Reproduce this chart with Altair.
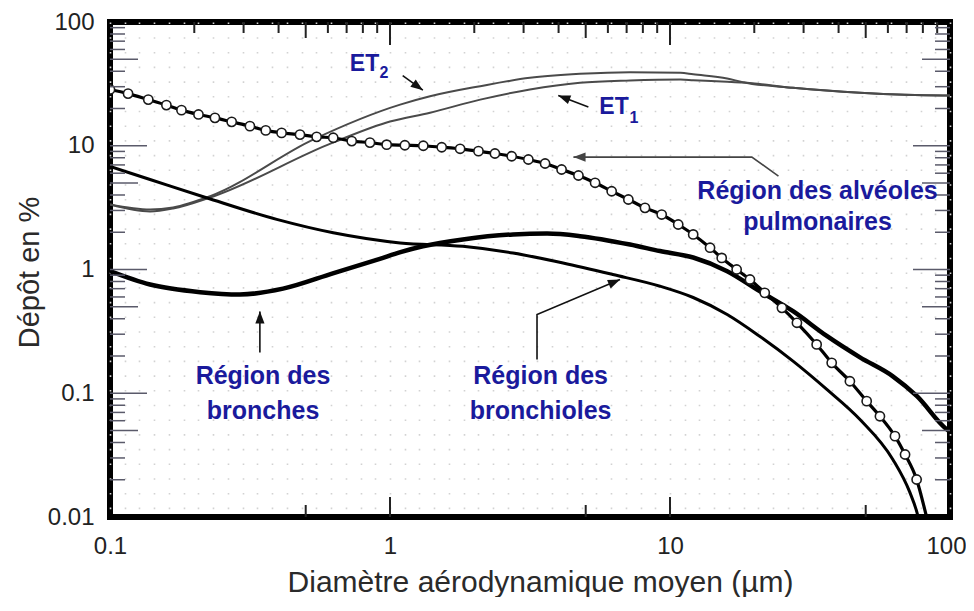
import math
import altair as alt
import pandas as pd

# ---------------- data ----------------
# ET2 (upper thin curve) and ET1 (lower thin curve)
et2_x = [0.1, 0.139, 0.168, 0.228, 0.531, 1.087, 1.39, 2.10, 3.16, 4.77, 7.20, 10.9, 12.1, 16.0, 18.2, 27.5, 47.7, 94.4, 100]
et2_y = [3.35, 3.05, 3.17, 3.91, 11.2, 21.5, 25.1, 30.3, 35.4, 38.1, 39.3, 38.9, 37.8, 35.0, 32.6, 29.4, 26.8, 25.5, 25.5]
et1_x = [0.1, 0.139, 0.168, 0.228, 0.625, 1.0, 1.39, 2.10, 3.16, 4.77, 7.20, 10.9, 12.1, 16.0, 18.2, 27.5, 47.7, 94.4, 100]
et1_y = [3.35, 2.94, 3.11, 3.82, 10.6, 15.7, 18.5, 23.6, 28.5, 32.3, 33.7, 34.3, 33.9, 32.9, 32.4, 29.4, 26.8, 25.5, 25.5]

# Région des bronches (thick curve)
bro_x = [0.1, 0.139, 0.210, 0.291, 0.415, 0.625, 0.92, 1.09, 1.31, 1.82, 2.75, 3.64, 4.77, 7.2, 9.21, 12.1, 16.0, 20.9, 27.5, 36.4, 47.7, 62.5, 76.2, 97.5, 100]
bro_y = [0.97, 0.756, 0.656, 0.628, 0.70, 0.93, 1.22, 1.38, 1.54, 1.75, 1.92, 1.95, 1.86, 1.59, 1.41, 1.25, 0.969, 0.668, 0.46, 0.289, 0.195, 0.137, 0.0947, 0.051, 0.049]

# Région des bronchioles (medium curve)
bch_x = [0.1, 0.139, 0.221, 0.394, 0.627, 1.087, 1.82, 2.75, 4.15, 6.25, 9.21, 12.1, 16.0, 20.9, 27.5, 36.4, 47.7, 62.5, 71.9, 76.2, 78.0]
bch_y = [6.8, 5.34, 3.80, 2.54, 1.98, 1.64, 1.54, 1.36, 1.13, 0.911, 0.733, 0.594, 0.433, 0.289, 0.182, 0.107, 0.0614, 0.0292, 0.0158, 0.0109, 0.0088]

# Région des alvéoles pulmonaires (curve with open circles)
alv_x = [0.1, 0.116, 0.137, 0.159, 0.180, 0.207, 0.237, 0.272, 0.316, 0.360, 0.410, 0.477, 0.547, 0.627,
         0.730, 0.848, 0.973, 1.13, 1.315, 1.53, 1.78, 2.07, 2.37, 2.72, 3.12, 3.58, 4.10, 4.71, 5.40,
         6.19, 7.10, 8.14, 9.34, 10.7, 12.1, 13.9, 15.3, 17.3, 19.3, 21.8, 25.1, 28.4, 33.4, 37.8, 43.9,
         50.4, 56.2, 63.6, 69.1, 76.0]
alv_y = [28.5, 26.4, 23.6, 21.3, 19.4, 17.9, 16.8, 15.6, 14.4, 13.3, 12.7, 12.3, 11.8, 11.6,
         10.9, 10.6, 10.2, 10.1, 10.0, 9.73, 9.45, 9.04, 8.66, 8.23, 7.74, 7.19, 6.43, 5.75, 5.02,
         4.29, 3.68, 3.15, 2.78, 2.31, 1.92, 1.50, 1.24, 1.0, 0.83, 0.648, 0.49, 0.371, 0.248, 0.176, 0.125,
         0.0863, 0.0652, 0.045, 0.032, 0.0201]
alv_tail_x = [82.5, 84.0]
alv_tail_y = [0.0100, 0.0085]

# axis labels
x_label_values = [0.1, 1, 10, 100]
y_label_values = [0.01, 0.1, 1, 10, 100]
mantissas_minor = [2, 3, 4, 6, 7, 8, 9]

# annotations (data coordinates)
ann_rows = [
    ("Région des alvéoles", 33.65, 4.27),
    ("pulmonaires", 33.65, 2.40),
    ("Région des", 0.352, 0.1366),
    ("bronches", 0.352, 0.0725),
    ("Région des", 3.45, 0.1366),
    ("bronchioles", 3.45, 0.0725),
]
et_main = [("ET", 0.811, 46.2), ("ET", 6.31, 20.4)]
et_sub = [("2", 0.952, 38.7), ("1", 7.43, 16.9)]

arrows = {
    "et2": [(1.11, 36.9), (1.31, 28.1)],
    "et1": [(5.11, 20.6), (3.99, 25.5)],
    "alv": [(24.4, 5.68), (19.6, 8.1), (4.52, 8.1)],
    "bro": [(0.343, 0.213), (0.343, 0.458)],
    "bch": [(3.35, 0.187), (3.35, 0.433), (6.63, 0.83)],
}
arrow_colors = {"et2": "#111111", "et1": "#111111", "alv": "#444444", "bro": "#111111", "bch": "#111111"}

# ---------------- layout ----------------
W, H = 840, 495
PX_X = W / 3.0   # pixels per decade
PX_Y = H / 4.0
BLUE = "#1a1a9c"
SANS = "Liberation Sans, Arial"

xs = alt.Scale(type="log", domain=[0.1, 100], nice=False)
ys = alt.Scale(type="log", domain=[0.01, 100], nice=False)

grid_vals = [float(f"{10 ** (k / 19.0 - 1):.10g}") for k in range(0, 58)]

x_axis = alt.Axis(
    values=grid_vals, format="~g",
    labelExpr="abs(log(datum.value)/LN10 - round(log(datum.value)/LN10)) < 0.001 ? datum.label : ''",
    grid=True, gridColor="#d2d2d2", gridDash=[1.6, 13.1], gridWidth=1.6,
    ticks=False, tickSize=0, domain=False, labelOverlap=False, labelFlush=False, labelBound=False,
    labelFont=SANS, labelFontSize=24, labelColor="#222222", labelPadding=29, labelBaseline="middle",
    labelOffset={"condition": {"test": "datum.value > 50", "value": -4}, "value": 0},
    title="Diamètre aérodynamique moyen (µm)", titleFont=SANS, titleFontSize=30,
    titleFontWeight="normal", titleColor="#2a2a2a", titleX=430, titleY=74,
    titleBaseline="alphabetic", titleAlign="center",
)
y_axis = alt.Axis(
    values=y_label_values, format="~g", grid=False, ticks=False, tickSize=0, domain=False,
    labelFlush=False, labelBound=False, labelOverlap=False,
    labelFont=SANS, labelFontSize=24, labelColor="#222222", labelPadding=16,
    title="Dépôt en %", titleFont=SANS, titleFontSize=29, titleFontWeight="normal",
    titleColor="#2a2a2a", titleX=-72, titleY=250, titleAngle=270,
    titleBaseline="alphabetic", titleAlign="center",
)


def X():
    return alt.X("x:Q", scale=xs, axis=x_axis)


def Y():
    return alt.Y("y:Q", scale=ys, axis=y_axis)


def df_xy(xv, yv):
    return pd.DataFrame({"x": xv, "y": yv})


def line(xv, yv, width, color):
    return alt.Chart(df_xy(xv, yv)).mark_line(
        strokeWidth=width, color=color, interpolate="monotone", clip=True
    ).encode(x=X(), y=Y())


layers = []


# inner ticks along the frame
def xticks(vals, y0, y1, color="#222222", width=2):
    return alt.Chart(pd.DataFrame({"x": vals})).mark_rule(color=color, strokeWidth=width).encode(
        x=X(), y=alt.value(y0), y2=alt.value(y1))


def yticks(vals, x0, x1, color="#5a5a6a", width=1.5):
    return alt.Chart(pd.DataFrame({"y": vals})).mark_rule(color=color, strokeWidth=width).encode(
        y=Y(), x=alt.value(x0), x2=alt.value(x1))


x_minor = [m * 10 ** e for e in (-1, 0, 1) for m in mantissas_minor]
x_mid = [0.5, 5, 50]
x_major = [1, 10]
y_minor = [m * 10 ** e for e in (-2, -1, 0, 1) for m in mantissas_minor]
y_mid = [0.05, 0.5, 5, 50]
y_major = [0.1, 1, 10]

# curves
layers.append(line(et2_x, et2_y, 2.0, "#4a4a4a"))
layers.append(line(et1_x, et1_y, 2.0, "#4a4a4a"))
layers.append(line(bch_x, bch_y, 3.0, "#000000"))
layers.append(line(bro_x, bro_y, 4.5, "#000000"))
layers.append(line(alv_x + alv_tail_x, alv_y + alv_tail_y, 3.2, "#000000"))
layers.append(
    alt.Chart(df_xy(alv_x, alv_y)).mark_point(
        shape="circle", size=85, filled=True, fill="white", stroke="#1a1a1a", strokeWidth=1.6,
        opacity=1, clip=True,
    ).encode(x=X(), y=Y())
)

layers += [
    xticks(x_minor, 0, 11), xticks(x_mid, 0, 16), xticks(x_major, 0, 23),
    xticks(x_mid, H, H - 12), xticks(x_major, H, H - 20),
    yticks(y_minor, 0, 15), yticks(y_mid, 0, 28), yticks(y_major, 0, 37),
    yticks(y_minor, W, W - 15), yticks(y_mid, W, W - 28), yticks(y_major, W, W - 37),
]

# arrows
arrow_rows = []
head_rows = []
for name, pts in arrows.items():
    for i, (ax, ay) in enumerate(pts):
        arrow_rows.append({"arrow": name, "order": i, "x": ax, "y": ay, "c": arrow_colors[name]})
    (px, py), (tx, ty) = pts[-2], pts[-1]
    dx = (math.log10(tx) - math.log10(px)) * PX_X
    dy = -(math.log10(ty) - math.log10(py)) * PX_Y
    L = math.hypot(dx, dy)
    ux, uy = dx / L, dy / L
    ang = math.degrees(math.atan2(ux, -uy)) % 360
    back = 6.0
    cx = 10 ** (math.log10(tx) - back * ux / PX_X)
    cy = 10 ** (math.log10(ty) + back * uy / PX_Y)
    head_rows.append({"x": cx, "y": cy, "angle": ang, "c": arrow_colors[name]})

layers.append(
    alt.Chart(pd.DataFrame(arrow_rows)).mark_line(strokeWidth=1.6).encode(
        x=X(), y=Y(), detail="arrow:N", order="order:Q", color=alt.Color("c:N", scale=None))
)
layers.append(
    alt.Chart(pd.DataFrame(head_rows)).mark_point(
        shape="M0,-1L0.75,1L-0.75,1Z", size=150, filled=True, opacity=1, strokeWidth=0
    ).encode(x=X(), y=Y(), angle=alt.Angle("angle:Q", scale=None), color=alt.Color("c:N", scale=None))
)

# texts
layers.append(
    alt.Chart(pd.DataFrame(ann_rows, columns=["t", "x", "y"])).mark_text(
        font=SANS, fontSize=25, fontWeight="bold", color=BLUE, align="center", baseline="middle"
    ).encode(x=X(), y=Y(), text="t:N")
)
layers.append(
    alt.Chart(pd.DataFrame(et_main, columns=["t", "x", "y"])).mark_text(
        font=SANS, fontSize=23, fontWeight="bold", color=BLUE, align="center", baseline="middle"
    ).encode(x=X(), y=Y(), text="t:N")
)
layers.append(
    alt.Chart(pd.DataFrame(et_sub, columns=["t", "x", "y"])).mark_text(
        font=SANS, fontSize=16, fontWeight="bold", color=BLUE, align="center", baseline="middle"
    ).encode(x=X(), y=Y(), text="t:N")
)

chart = alt.layer(*layers).properties(
    width=W, height=H,
    autosize=alt.AutoSizeParams(type="none"),
    padding={"left": 102, "top": 14, "right": 16, "bottom": 80},
    background="white",
).configure_view(stroke="black", strokeWidth=6)

chart.save("out.html", embed_options={"renderer": "svg", "actions": False})
